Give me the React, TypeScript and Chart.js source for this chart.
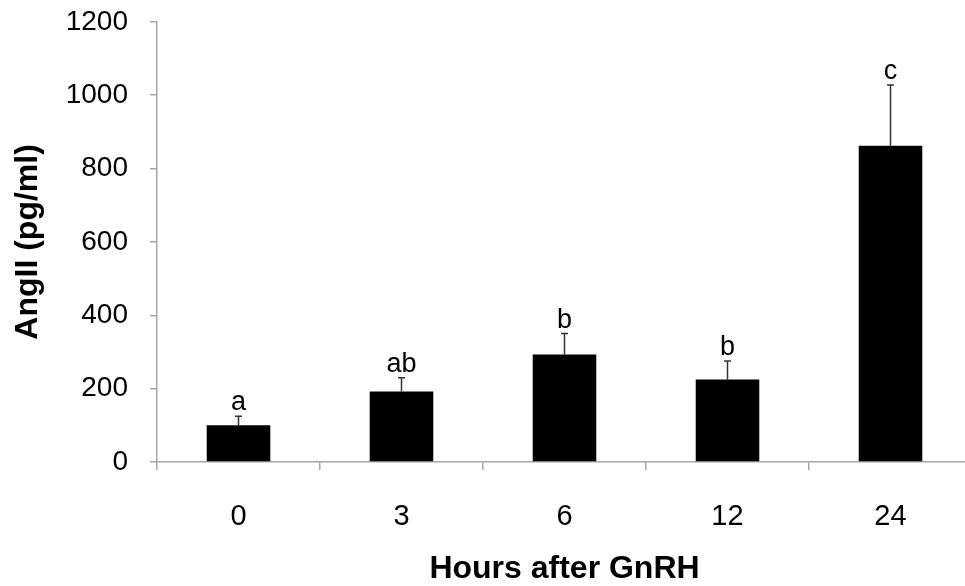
import React, { useEffect, useRef } from "react";
import { Chart, registerables } from "chart.js";

Chart.register(...registerables);

const categories = ["0", "3", "6", "12", "24"];
const means = [100, 192, 293, 225, 862];
const errors = [25, 38, 57, 50, 166];
const letters = ["a", "ab", "b", "b", "c"];
const yMin = 0;
const yMax = 1200;
const yStep = 200;

const FONT = "'Liberation Sans', Arial, Helvetica, sans-serif";
const AXIS_GRAY = "#a6a6a6";

const errorBarPlugin = {
  id: "errorBars",
  afterDatasetsDraw(chart: any) {
    const meta = chart.getDatasetMeta(0);
    const yScale = chart.scales.y;
    const ctx = chart.ctx;
    ctx.save();
    meta.data.forEach((el: any, i: number) => {
      const x = el.x;
      const top = el.y;
      const errTop = yScale.getPixelForValue(means[i] + errors[i]);
      ctx.strokeStyle = "#333333";
      ctx.lineWidth = 1.5;
      ctx.beginPath();
      ctx.moveTo(x, top);
      ctx.lineTo(x, errTop);
      ctx.moveTo(x - 3.5, errTop);
      ctx.lineTo(x + 3.5, errTop);
      ctx.stroke();
      ctx.fillStyle = "#000";
      ctx.font = `27px ${FONT}`;
      ctx.textAlign = "center";
      ctx.textBaseline = "alphabetic";
      ctx.fillText(letters[i], x, errTop - 6);
    });
    ctx.restore();
  },
};

export default function App() {
  const ref = useRef<HTMLCanvasElement | null>(null);
  useEffect(() => {
    if (!ref.current) return;
    const chart = new Chart(ref.current, {
      type: "bar",
      data: {
        labels: categories,
        datasets: [
          {
            data: means,
            backgroundColor: "#000000",
            borderWidth: 0,
            categoryPercentage: 1,
            barPercentage: 0.39,
          },
        ],
      },
      options: {
        animation: false,
        responsive: true,
        maintainAspectRatio: false,
        layout: { padding: { left: 0, right: 3, top: 0, bottom: 0 } },
        plugins: {
          legend: { display: false },
          tooltip: { enabled: false },
        },
        scales: {
          x: {
            offset: true,
            grid: {
              offset: true,
              drawOnChartArea: false,
              drawTicks: true,
              tickLength: 8,
              color: AXIS_GRAY,
              lineWidth: 1.5,
            },
            border: { color: AXIS_GRAY, width: 1.5 },
            ticks: {
              color: "#000",
              font: { family: FONT, size: 29 },
              padding: 30,
            },
            title: {
              display: true,
              text: "Hours after GnRH",
              color: "#000",
              font: { family: FONT, size: 32, weight: "bold" },
              padding: { top: 0, bottom: -2 },
            },
            afterFit(scale: any) {
              scale.height = 124;
            },
          },
          y: {
            min: yMin,
            max: yMax,
            grid: {
              drawOnChartArea: false,
              drawTicks: true,
              tickLength: 7,
              color: AXIS_GRAY,
              lineWidth: 1.5,
            },
            border: { color: AXIS_GRAY, width: 1.5 },
            ticks: {
              stepSize: yStep,
              color: "#000",
              font: { family: FONT, size: 28 },
              padding: 22,
              callback: (v: any) => String(v),
            },
            title: {
              display: true,
              text: "AngII (pg/ml)",
              color: "#000",
              font: { family: FONT, size: 32, weight: "bold" },
              padding: { top: 9, bottom: 0 },
            },
            afterFit(scale: any) {
              scale.width = 157;
            },
          },
        },
      },
      plugins: [errorBarPlugin],
    } as any);
    return () => chart.destroy();
  }, []);

  return (
    <div
      style={{
        position: "fixed",
        left: 0,
        top: 0,
        width: 965,
        height: 586,
        overflow: "hidden",
        background: "#fff",
      }}
    >
      <div style={{ position: "absolute", left: 0, top: -17, width: 975, height: 603 }}>
        <canvas ref={ref} />
      </div>
    </div>
  );
}
